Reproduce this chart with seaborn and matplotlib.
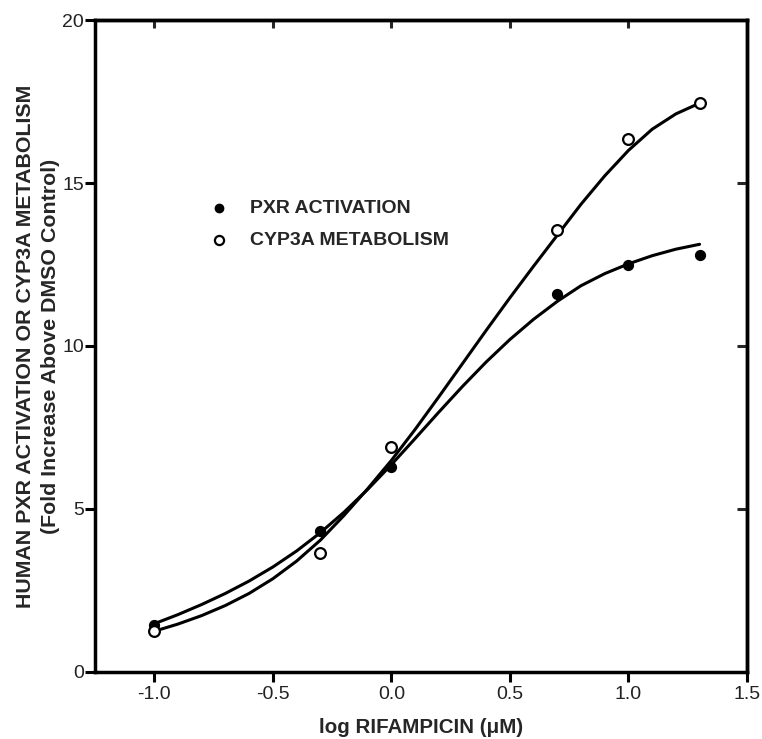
import matplotlib
matplotlib.use("Agg")
import matplotlib.pyplot as plt
import seaborn as sns

# data
dose_log = [-1.0, -0.301, 0.0, 0.699, 1.0, 1.301]
pxr_activation = [1.45, 4.32, 6.29, 11.6, 12.5, 12.8]
cyp3a_metabolism = [1.26, 3.65, 6.9, 13.56, 16.35, 17.45]

# fitted curves
curve_x = [-1.0, -0.9, -0.8, -0.7, -0.6, -0.5, -0.4, -0.3, -0.2, -0.1, 0.0,
           0.1, 0.2, 0.3, 0.4, 0.5, 0.6, 0.7, 0.8, 0.9, 1.0, 1.1, 1.2, 1.3]
pxr_curve = [1.48, 1.76, 2.07, 2.41, 2.79, 3.22, 3.71, 4.27, 4.90, 5.60, 6.36,
             7.16, 7.97, 8.76, 9.51, 10.20, 10.82, 11.37, 11.85, 12.22, 12.52, 12.77, 12.97, 13.12]
cyp3a_curve = [1.25, 1.47, 1.73, 2.04, 2.41, 2.86, 3.40, 4.04, 4.80, 5.62, 6.49,
               7.44, 8.44, 9.46, 10.48, 11.48, 12.45, 13.40, 14.35, 15.22, 16.00, 16.65, 17.12, 17.45]

x_ticks = [-1.0, -0.5, 0.0, 0.5, 1.0, 1.5]
y_ticks = [0, 5, 10, 15, 20]

sns.set_theme(style="ticks")
plt.rcParams["font.family"] = ["Liberation Sans", "DejaVu Sans"]

fig = plt.figure(figsize=(7.62, 7.39), dpi=100)
ax = fig.add_axes([0.1247, 0.0907, 0.8556, 0.8822])

sns.lineplot(x=curve_x, y=pxr_curve, color="black", linewidth=2.2, ax=ax)
sns.lineplot(x=curve_x, y=cyp3a_curve, color="black", linewidth=2.2, ax=ax)

sns.scatterplot(x=dose_log, y=pxr_activation, color="black", s=50,
                edgecolor="black", linewidth=1, label="PXR ACTIVATION", ax=ax, zorder=3)
sns.scatterplot(x=dose_log, y=cyp3a_metabolism, facecolor="white", s=60,
                edgecolor="black", linewidth=1.6, label="CYP3A METABOLISM", ax=ax, zorder=3)

ax.set_xlim(-1.25, 1.5)
ax.set_ylim(0, 20)
ax.set_xticks(x_ticks)
ax.set_xticklabels([f"{t:.1f}" for t in x_ticks])
ax.set_yticks(y_ticks)

for side in ["left", "bottom", "top", "right"]:
    ax.spines[side].set_linewidth(2.5)
    ax.spines[side].set_color("black")

ax.tick_params(axis="both", direction="out", length=7, width=2.2, color="black",
               labelsize=14, labelcolor="#222222")
ax.tick_params(axis="x", pad=3)
ax.tick_params(axis="y", pad=1)

# inward ticks on top and right
top = ax.secondary_xaxis("top")
top.set_xticks(x_ticks[:-1])
top.tick_params(direction="in", length=6, width=2.2, labeltop=False)
top.spines["top"].set_linewidth(2.5)
right = ax.secondary_yaxis("right")
right.set_yticks(y_ticks[1:-1])
right.tick_params(direction="in", length=7, width=2.2, labelright=False)
right.spines["right"].set_linewidth(2.5)

ax.set_xlabel("log RIFAMPICIN (\u03bcM)", fontsize=14.8, fontweight="bold", labelpad=11)
ax.set_ylabel("HUMAN PXR ACTIVATION OR CYP3A METABOLISM\n(Fold Increase Above DMSO Control)",
              fontsize=15.4, fontweight="bold", labelpad=1.5, linespacing=1.4)

ax.legend(loc="upper left", bbox_to_anchor=(0.149, 0.752), frameon=False,
          prop={"weight": "bold", "size": 14},
          handlelength=1, handletextpad=1.1, labelspacing=0.75, markerscale=0.85)

fig.savefig("out.png", dpi=100)
